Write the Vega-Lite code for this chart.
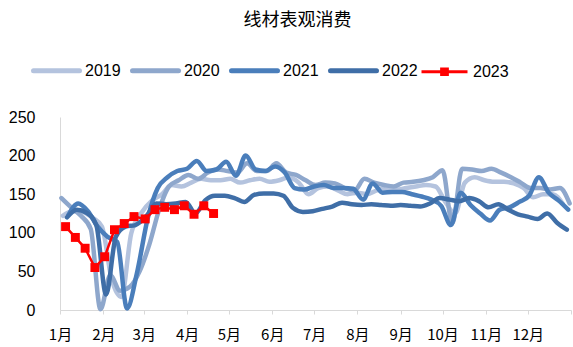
{
"$schema":"https://vega.github.io/schema/vega-lite/v6.json",
"autosize":"none",
"width":511,"height":193,
"padding":{"left":60,"top":117,"right":2,"bottom":37},
"background":"white",
"title":{"text":"线材表观消费","font":"Noto Sans CJK SC","fontSize":18,"fontWeight":"normal","color":"#000000","anchor":"middle","frame":"group","dx":-18,"offset":15},
"config":{"view":{"stroke":null}},
"data":{"values":[
{"d":"2019-01-03","s":"2019","v":122},{"d":"2019-01-10","s":"2019","v":128},{"d":"2019-01-17","s":"2019","v":127},{"d":"2019-01-24","s":"2019","v":120},{"d":"2019-01-31","s":"2019","v":108},{"d":"2019-02-07","s":"2019","v":40},{"d":"2019-02-14","s":"2019","v":17},{"d":"2019-02-21","s":"2019","v":99},{"d":"2019-02-28","s":"2019","v":125},{"d":"2019-03-07","s":"2019","v":142},{"d":"2019-03-14","s":"2019","v":150},{"d":"2019-03-21","s":"2019","v":162},{"d":"2019-03-28","s":"2019","v":160},{"d":"2019-04-04","s":"2019","v":165},{"d":"2019-04-11","s":"2019","v":170},{"d":"2019-04-18","s":"2019","v":168},{"d":"2019-04-25","s":"2019","v":168},{"d":"2019-05-02","s":"2019","v":170},{"d":"2019-05-09","s":"2019","v":165},{"d":"2019-05-16","s":"2019","v":168},{"d":"2019-05-23","s":"2019","v":170},{"d":"2019-05-30","s":"2019","v":166},{"d":"2019-06-06","s":"2019","v":168},{"d":"2019-06-13","s":"2019","v":172},{"d":"2019-06-20","s":"2019","v":165},{"d":"2019-06-27","s":"2019","v":150},{"d":"2019-07-04","s":"2019","v":158},{"d":"2019-07-11","s":"2019","v":160},{"d":"2019-07-18","s":"2019","v":155},{"d":"2019-07-25","s":"2019","v":150},{"d":"2019-08-01","s":"2019","v":152},{"d":"2019-08-08","s":"2019","v":150},{"d":"2019-08-15","s":"2019","v":155},{"d":"2019-08-22","s":"2019","v":158},{"d":"2019-08-29","s":"2019","v":156},{"d":"2019-09-05","s":"2019","v":158},{"d":"2019-09-12","s":"2019","v":160},{"d":"2019-09-19","s":"2019","v":162},{"d":"2019-09-26","s":"2019","v":160},{"d":"2019-10-03","s":"2019","v":140},{"d":"2019-10-10","s":"2019","v":125},{"d":"2019-10-17","s":"2019","v":165},{"d":"2019-10-24","s":"2019","v":172},{"d":"2019-10-31","s":"2019","v":168},{"d":"2019-11-07","s":"2019","v":166},{"d":"2019-11-14","s":"2019","v":166},{"d":"2019-11-21","s":"2019","v":164},{"d":"2019-11-28","s":"2019","v":158},{"d":"2019-12-05","s":"2019","v":146},{"d":"2019-12-12","s":"2019","v":150},{"d":"2019-12-19","s":"2019","v":150},{"d":"2019-12-26","s":"2019","v":138},
{"d":"2020-01-02","s":"2020","v":145},{"d":"2020-01-09","s":"2020","v":133},{"d":"2020-01-16","s":"2020","v":122},{"d":"2020-01-23","s":"2020","v":105},{"d":"2020-01-30","s":"2020","v":1},{"d":"2020-02-06","s":"2020","v":45},{"d":"2020-02-13","s":"2020","v":25},{"d":"2020-02-20","s":"2020","v":30},{"d":"2020-02-27","s":"2020","v":50},{"d":"2020-03-05","s":"2020","v":85},{"d":"2020-03-12","s":"2020","v":130},{"d":"2020-03-19","s":"2020","v":160},{"d":"2020-03-26","s":"2020","v":168},{"d":"2020-04-02","s":"2020","v":175},{"d":"2020-04-09","s":"2020","v":170},{"d":"2020-04-16","s":"2020","v":178},{"d":"2020-04-23","s":"2020","v":182},{"d":"2020-04-30","s":"2020","v":180},{"d":"2020-05-07","s":"2020","v":178},{"d":"2020-05-14","s":"2020","v":190},{"d":"2020-05-21","s":"2020","v":180},{"d":"2020-05-28","s":"2020","v":180},{"d":"2020-06-04","s":"2020","v":190},{"d":"2020-06-11","s":"2020","v":178},{"d":"2020-06-18","s":"2020","v":175},{"d":"2020-06-25","s":"2020","v":168},{"d":"2020-07-02","s":"2020","v":162},{"d":"2020-07-09","s":"2020","v":165},{"d":"2020-07-16","s":"2020","v":164},{"d":"2020-07-23","s":"2020","v":158},{"d":"2020-07-30","s":"2020","v":155},{"d":"2020-08-06","s":"2020","v":170},{"d":"2020-08-13","s":"2020","v":165},{"d":"2020-08-20","s":"2020","v":162},{"d":"2020-08-27","s":"2020","v":160},{"d":"2020-09-03","s":"2020","v":165},{"d":"2020-09-10","s":"2020","v":166},{"d":"2020-09-17","s":"2020","v":168},{"d":"2020-09-24","s":"2020","v":172},{"d":"2020-10-01","s":"2020","v":181},{"d":"2020-10-08","s":"2020","v":112},{"d":"2020-10-15","s":"2020","v":183},{"d":"2020-10-22","s":"2020","v":182},{"d":"2020-10-29","s":"2020","v":180},{"d":"2020-11-05","s":"2020","v":183},{"d":"2020-11-12","s":"2020","v":178},{"d":"2020-11-19","s":"2020","v":172},{"d":"2020-11-26","s":"2020","v":165},{"d":"2020-12-03","s":"2020","v":158},{"d":"2020-12-10","s":"2020","v":158},{"d":"2020-12-17","s":"2020","v":156},{"d":"2020-12-24","s":"2020","v":158},{"d":"2020-12-31","s":"2020","v":138},
{"d":"2021-01-07","s":"2021","v":123},{"d":"2021-01-14","s":"2021","v":138},{"d":"2021-01-21","s":"2021","v":128},{"d":"2021-01-28","s":"2021","v":108},{"d":"2021-02-04","s":"2021","v":95},{"d":"2021-02-11","s":"2021","v":88},{"d":"2021-02-18","s":"2021","v":2},{"d":"2021-02-25","s":"2021","v":47},{"d":"2021-03-04","s":"2021","v":120},{"d":"2021-03-11","s":"2021","v":158},{"d":"2021-03-18","s":"2021","v":172},{"d":"2021-03-25","s":"2021","v":180},{"d":"2021-04-01","s":"2021","v":183},{"d":"2021-04-08","s":"2021","v":193},{"d":"2021-04-15","s":"2021","v":180},{"d":"2021-04-22","s":"2021","v":182},{"d":"2021-04-29","s":"2021","v":192},{"d":"2021-05-06","s":"2021","v":174},{"d":"2021-05-13","s":"2021","v":200},{"d":"2021-05-20","s":"2021","v":182},{"d":"2021-05-27","s":"2021","v":180},{"d":"2021-06-03","s":"2021","v":186},{"d":"2021-06-10","s":"2021","v":178},{"d":"2021-06-17","s":"2021","v":158},{"d":"2021-06-24","s":"2021","v":156},{"d":"2021-07-01","s":"2021","v":160},{"d":"2021-07-08","s":"2021","v":162},{"d":"2021-07-15","s":"2021","v":158},{"d":"2021-07-22","s":"2021","v":158},{"d":"2021-07-29","s":"2021","v":157},{"d":"2021-08-05","s":"2021","v":143},{"d":"2021-08-12","s":"2021","v":164},{"d":"2021-08-19","s":"2021","v":152},{"d":"2021-08-26","s":"2021","v":153},{"d":"2021-09-02","s":"2021","v":153},{"d":"2021-09-09","s":"2021","v":150},{"d":"2021-09-16","s":"2021","v":147},{"d":"2021-09-23","s":"2021","v":143},{"d":"2021-09-30","s":"2021","v":135},{"d":"2021-10-07","s":"2021","v":110},{"d":"2021-10-14","s":"2021","v":152},{"d":"2021-10-21","s":"2021","v":136},{"d":"2021-10-28","s":"2021","v":125},{"d":"2021-11-04","s":"2021","v":116},{"d":"2021-11-11","s":"2021","v":130},{"d":"2021-11-18","s":"2021","v":133},{"d":"2021-11-25","s":"2021","v":140},{"d":"2021-12-02","s":"2021","v":148},{"d":"2021-12-09","s":"2021","v":172},{"d":"2021-12-16","s":"2021","v":152},{"d":"2021-12-23","s":"2021","v":142},{"d":"2021-12-30","s":"2021","v":130},
{"d":"2022-01-06","s":"2022","v":120},{"d":"2022-01-13","s":"2022","v":130},{"d":"2022-01-20","s":"2022","v":126},{"d":"2022-01-27","s":"2022","v":110},{"d":"2022-02-03","s":"2022","v":20},{"d":"2022-02-10","s":"2022","v":95},{"d":"2022-02-17","s":"2022","v":108},{"d":"2022-02-24","s":"2022","v":110},{"d":"2022-03-03","s":"2022","v":122},{"d":"2022-03-10","s":"2022","v":138},{"d":"2022-03-17","s":"2022","v":137},{"d":"2022-03-24","s":"2022","v":138},{"d":"2022-03-31","s":"2022","v":140},{"d":"2022-04-07","s":"2022","v":125},{"d":"2022-04-14","s":"2022","v":142},{"d":"2022-04-21","s":"2022","v":148},{"d":"2022-04-28","s":"2022","v":148},{"d":"2022-05-05","s":"2022","v":145},{"d":"2022-05-12","s":"2022","v":140},{"d":"2022-05-19","s":"2022","v":149},{"d":"2022-05-26","s":"2022","v":151},{"d":"2022-06-02","s":"2022","v":151},{"d":"2022-06-09","s":"2022","v":148},{"d":"2022-06-16","s":"2022","v":132},{"d":"2022-06-23","s":"2022","v":127},{"d":"2022-06-30","s":"2022","v":128},{"d":"2022-07-07","s":"2022","v":131},{"d":"2022-07-14","s":"2022","v":134},{"d":"2022-07-21","s":"2022","v":139},{"d":"2022-07-28","s":"2022","v":137},{"d":"2022-08-04","s":"2022","v":136},{"d":"2022-08-11","s":"2022","v":137},{"d":"2022-08-18","s":"2022","v":136},{"d":"2022-08-25","s":"2022","v":135},{"d":"2022-09-01","s":"2022","v":136},{"d":"2022-09-08","s":"2022","v":135},{"d":"2022-09-15","s":"2022","v":134},{"d":"2022-09-22","s":"2022","v":138},{"d":"2022-09-29","s":"2022","v":145},{"d":"2022-10-06","s":"2022","v":143},{"d":"2022-10-13","s":"2022","v":141},{"d":"2022-10-20","s":"2022","v":145},{"d":"2022-10-27","s":"2022","v":141},{"d":"2022-11-03","s":"2022","v":133},{"d":"2022-11-10","s":"2022","v":137},{"d":"2022-11-17","s":"2022","v":130},{"d":"2022-11-24","s":"2022","v":124},{"d":"2022-12-01","s":"2022","v":121},{"d":"2022-12-08","s":"2022","v":118},{"d":"2022-12-15","s":"2022","v":125},{"d":"2022-12-22","s":"2022","v":113},{"d":"2022-12-29","s":"2022","v":104},
{"d":"2023-01-05","s":"2023","v":108},{"d":"2023-01-12","s":"2023","v":94},{"d":"2023-01-19","s":"2023","v":80},{"d":"2023-01-26","s":"2023","v":55},{"d":"2023-02-02","s":"2023","v":69},{"d":"2023-02-09","s":"2023","v":104},{"d":"2023-02-16","s":"2023","v":112},{"d":"2023-02-23","s":"2023","v":121},{"d":"2023-03-02","s":"2023","v":118},{"d":"2023-03-09","s":"2023","v":130},{"d":"2023-03-16","s":"2023","v":133},{"d":"2023-03-23","s":"2023","v":130},{"d":"2023-03-30","s":"2023","v":135},{"d":"2023-04-06","s":"2023","v":124},{"d":"2023-04-13","s":"2023","v":135},{"d":"2023-04-20","s":"2023","v":125}
]},
"encoding":{
"x":{"field":"d","timeUnit":"utcmonthdate","type":"temporal",
"scale":{"domain":[{"year":2012,"month":1,"date":1,"utc":true},{"year":2013,"month":1,"date":1,"utc":true}]},
"axis":{"title":null,"grid":false,"domainColor":"#D9D9D9","domainWidth":1,"tickColor":"#D9D9D9","tickSize":4,"labelFont":"Noto Sans CJK SC","labelFontSize":15,"labelColor":"#000000","labelPadding":13,"labelAngle":0,"labelOverlap":false,"labelFlush":false,
"values":[{"year":2012,"month":1,"date":1,"utc":true},{"year":2012,"month":2,"date":1,"utc":true},{"year":2012,"month":3,"date":1,"utc":true},{"year":2012,"month":4,"date":1,"utc":true},{"year":2012,"month":5,"date":1,"utc":true},{"year":2012,"month":6,"date":1,"utc":true},{"year":2012,"month":7,"date":1,"utc":true},{"year":2012,"month":8,"date":1,"utc":true},{"year":2012,"month":9,"date":1,"utc":true},{"year":2012,"month":10,"date":1,"utc":true},{"year":2012,"month":11,"date":1,"utc":true},{"year":2012,"month":12,"date":1,"utc":true},{"year":2013,"month":1,"date":1,"utc":true}],
"labelExpr":"utcyear(datum.value) > 2012 ? '' : (utcmonth(datum.value) + 1) + '月'"}},
"y":{"field":"v","type":"quantitative","scale":{"domain":[0,250],"nice":false,"zero":true},
"axis":{"title":null,"grid":false,"values":[0,50,100,150,200,250],"ticks":false,"domainColor":"#D9D9D9","domainWidth":1,"labelFont":"Liberation Sans","labelFontSize":16,"labelColor":"#000000","labelPadding":25}},
"color":{"field":"s","type":"nominal","scale":{"domain":["2019","2020","2021","2022","2023"],"range":["#B4C3DE","#8EA7CC","#4A7EBB","#3F6EA7","#FF0000"]},
"legend":{"orient":"none","legendX":-29,"legendY":-72,"direction":"horizontal","title":null,"padding":0,"symbolType":"stroke","symbolSize":2116,"symbolStrokeWidth":5,"labelFont":"Liberation Sans","labelFontSize":16,"labelColor":"#000000","labelOffset":3,"columnPadding":1,
"encode":{"symbols":{"update":{"shape":{"signal":"datum.value === '2023' ? 'M-1,-0.065L1,-0.065L1,0.065L-1,0.065Z M-0.19,-0.19L0.19,-0.19L0.19,0.19L-0.19,0.19Z' : 'stroke'"},"size":{"value":2116},"strokeWidth":{"value":5},"strokeCap":{"value":"round"},"strokeOpacity":{"signal":"datum.value === '2023' ? 0 : 1"},"fill":{"signal":"datum.value === '2023' ? '#FF0000' : 'transparent'"},"fillOpacity":{"value":1},"opacity":{"value":1}}}}}}
},
"layer":[
{"transform":[{"filter":"datum.s !== '2023'"}],"mark":{"type":"line","interpolate":"monotone","strokeWidth":4.5,"strokeCap":"round","strokeJoin":"round"}},
{"transform":[{"filter":"datum.s === '2023'"}],"mark":{"type":"line","strokeWidth":2.5,"point":{"shape":"square","filled":true,"size":80,"color":"#FF0000","opacity":1}}}
]
}
